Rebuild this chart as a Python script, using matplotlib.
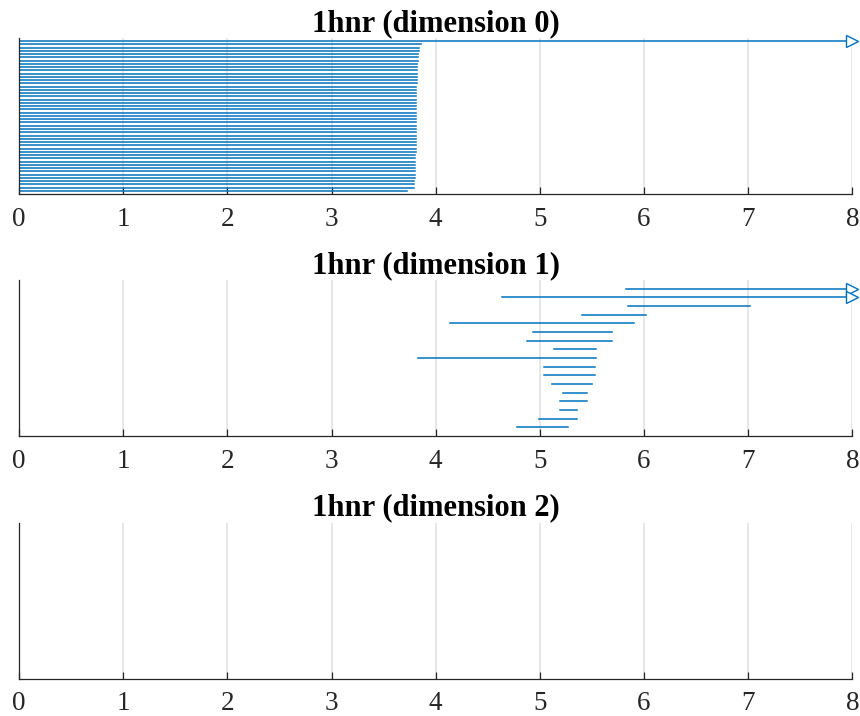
import numpy as np
import matplotlib.pyplot as plt

# persistence intervals for 1hnr, one list per homology dimension
dim0_birth = [0.0] * 47
dim0_death = [np.inf,
              3.86, 3.84, 3.84, 3.83, 3.83, 3.83, 3.82, 3.82, 3.82, 3.82,
              3.82, 3.82, 3.82, 3.81, 3.81, 3.81, 3.81, 3.81, 3.81, 3.81,
              3.81, 3.81, 3.81, 3.81, 3.81, 3.81, 3.81, 3.81, 3.81, 3.81,
              3.81, 3.81, 3.81, 3.81, 3.80, 3.80, 3.80, 3.80, 3.80, 3.80,
              3.80, 3.80, 3.79, 3.79, 3.79, 3.72]

dim1_birth = [5.83, 4.64, 5.85, 5.40, 4.14, 4.93, 4.88, 5.14, 3.83,
              5.04, 5.04, 5.12, 5.22, 5.19, 5.19, 4.99, 4.78]
dim1_death = [np.inf, np.inf, 7.02, 6.02, 5.90, 5.69, 5.69, 5.54, 5.54,
              5.53, 5.53, 5.50, 5.45, 5.45, 5.36, 5.36, 5.27]

dim2_birth = []
dim2_death = []

xmax = 8
blue = '#0072BD'
plt.rcParams['font.family'] = ['Liberation Serif', 'DejaVu Serif']


def barcode(ax, births, deaths, title):
    n = len(births)
    for i, (b, d) in enumerate(zip(births, deaths)):
        y = n - i
        if np.isinf(d):
            ax.plot([b, xmax], [y, y], color=blue, lw=1.1)
            ax.plot(xmax, y, marker='>', ms=9, mfc='white', mec=blue,
                    mew=1.0, clip_on=False, zorder=5)
        else:
            ax.plot([b, d], [y, y], color=blue, lw=1.1)
    ax.set_xlim(0, xmax)
    ax.set_ylim(0, n + 1)
    ax.set_xticks(range(xmax + 1))
    ax.set_yticks([])
    ax.grid(axis='x', color='#e3e3e3', lw=1.2)
    ax.set_axisbelow(True)
    for s in ['top', 'right']:
        ax.spines[s].set_visible(False)
    for s in ['left', 'bottom']:
        ax.spines[s].set_color('#262626')
        ax.spines[s].set_linewidth(0.9)
    ax.tick_params(axis='x', direction='in', length=5, width=0.9,
                   colors='#262626', labelsize=19.5, pad=9)
    ax.set_title(title, fontsize=22, fontweight='bold', pad=5)


fig = plt.figure(figsize=(8.6, 7.16), dpi=100)
ax0 = fig.add_axes([0.0221, 0.729, 0.969, 0.218])
ax1 = fig.add_axes([0.0221, 0.391, 0.969, 0.218])
ax2 = fig.add_axes([0.0221, 0.052, 0.969, 0.218])

barcode(ax0, dim0_birth, dim0_death, '1hnr (dimension 0)')
barcode(ax1, dim1_birth, dim1_death, '1hnr (dimension 1)')
barcode(ax2, dim2_birth, dim2_death, '1hnr (dimension 2)')

fig.savefig('out.png', dpi=100)
